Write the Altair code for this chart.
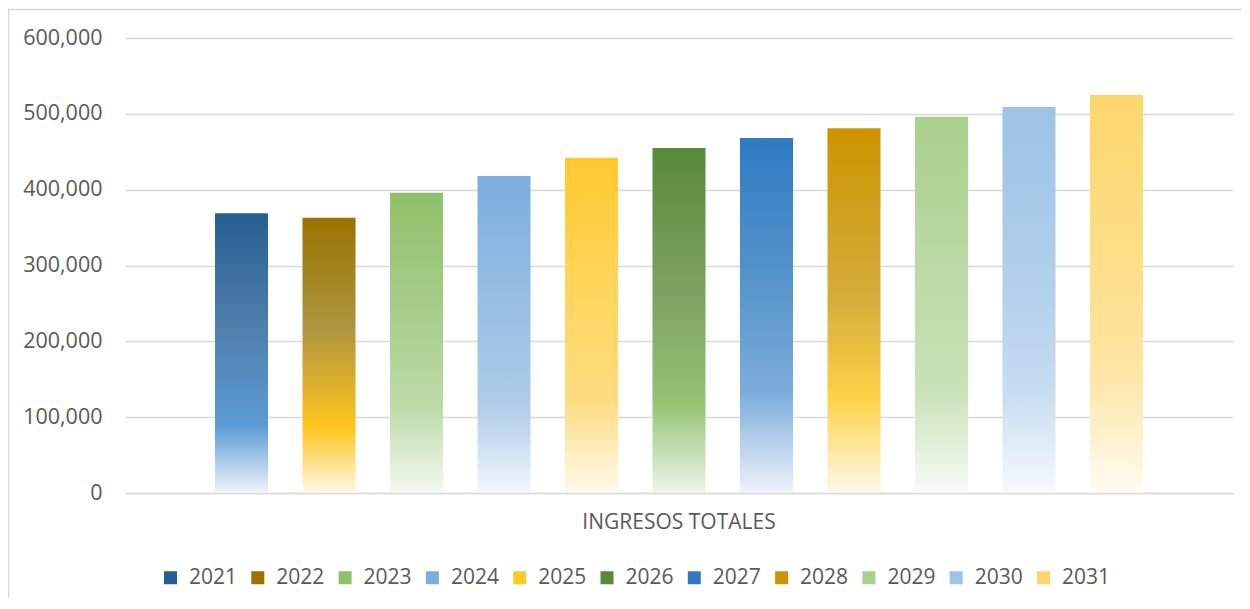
import altair as alt
import pandas as pd

category = "INGRESOS TOTALES"
years = ["2021", "2022", "2023", "2024", "2025", "2026", "2027", "2028", "2029", "2030", "2031"]
values = [369000, 363000, 396000, 418000, 442000, 455000, 468000, 481000, 496000, 509000, 525000]
y_ticks = [0, 100000, 200000, 300000, 400000, 500000, 600000]

# gradient styling per year (top, intermediate, main, bottom)
top_colors = ["#255E91", "#997300", "#8FC16A", "#7BAEDD", "#FFC92E", "#578A38",
              "#2E7BC2", "#CC9500", "#A8D08D", "#9DC3E6", "#FDD66B"]
midA_colors = ["#4F7FAB", "#AF9540", "#A6CD8A", "#98BEE3", "#FED65F", "#80A463",
               "#5C98CD", "#D5AD3C", "#C0DCAB", "#B4D1EC", "#FDE08F"]
midA_offsets = [0.40, 0.40, 0.40, 0.40, 0.42, 0.44, 0.46, 0.47, 0.50, 0.50, 0.50]
mid_colors = ["#5B9BD5", "#FFC51F", "#BEDBA9", "#AECCE9", "#FDDC80", "#94C472",
              "#7EADDC", "#FED247", "#C8E1B6", "#C5DBF0", "#FEE7A8"]
mid_offsets = [0.76, 0.76, 0.72, 0.72, 0.72, 0.74, 0.72, 0.74, 0.72, 0.72, 0.72]
bottom_colors = ["#F0F4FB", "#FFF8E8", "#F5F9F2", "#F3F7FC", "#FFF9EA", "#EEF5EA",
                 "#EEF3FB", "#FFF8EA", "#F8FBF6", "#F6F9FD", "#FFFCF2"]

TEXT = "#595959"
GRID = "#D9D9D9"

df = pd.DataFrame({"categoria": category, "anio": years, "valor": values, "cero": 0})

x_enc = alt.X(
    "categoria:N", title=None,
    scale=alt.Scale(domain=[category], paddingInner=0, paddingOuter=0.097),
    axis=alt.Axis(labelAngle=0, labelFontSize=21, labelColor=TEXT, labelPadding=18,
                  labelLimit=600, domainColor=GRID, domainWidth=1.5, ticks=False, grid=False),
)
xoff = alt.XOffset("anio:N", scale=alt.Scale(domain=years, paddingInner=0.394, paddingOuter=0))
y_enc = alt.Y(
    "valor:Q", title=None,
    scale=alt.Scale(domain=[0, 600000], nice=False),
    axis=alt.Axis(values=y_ticks, format=",d", labelFontSize=21.5, labelColor=TEXT,
                  labelPadding=23, domain=False, ticks=False, gridColor=GRID, gridWidth=1.5),
)

border = alt.Chart(alt.Data(values=[{"a": 1}])).mark_rect(
    fillOpacity=0, stroke=GRID, strokeWidth=1.5
).encode(
    x=alt.value(-116.5), x2=alt.value(1400), y=alt.value(-28.5), y2=alt.value(800)
)

layers = [border]
for i, yr in enumerate(years):
    grad = alt.LinearGradient(
        gradient="linear", x1=0, x2=0, y1=0, y2=1,
        stops=[
            alt.GradientStop(color=top_colors[i], offset=0),
            alt.GradientStop(color=midA_colors[i], offset=midA_offsets[i]),
            alt.GradientStop(color=mid_colors[i], offset=mid_offsets[i]),
            alt.GradientStop(color=bottom_colors[i], offset=1),
        ],
    )
    layers.append(
        alt.Chart(df).transform_filter(alt.datum.anio == yr)
        .mark_bar(color=grad)
        .encode(x=x_enc, xOffset=xoff, y=y_enc)
    )

legend_layer = alt.Chart(df).mark_bar().encode(
    x=x_enc, xOffset=xoff,
    y=alt.Y("cero:Q", title=None),
    color=alt.Color(
        "anio:N",
        scale=alt.Scale(domain=years, range=top_colors),
        legend=alt.Legend(
            title=None, orient="none", legendX=35, legendY=529, direction="horizontal",
            columns=11, symbolType="square", symbolSize=169, symbolStrokeWidth=0,
            labelFontSize=21, labelColor=TEXT, labelOffset=8, columnPadding=9.3,
            padding=0, labelLimit=200,
        ),
    ),
)
layers.append(legend_layer)

chart = alt.layer(*layers).properties(
    width=1108, height=455,
    autosize=alt.AutoSizeParams(type="none"),
    padding={"left": 117, "top": 30, "right": 9, "bottom": 105},
    background="white",
).configure(font="Open Sans").configure_view(stroke=None)

chart.save("out.html", embed_options={"renderer": "svg", "actions": False})
